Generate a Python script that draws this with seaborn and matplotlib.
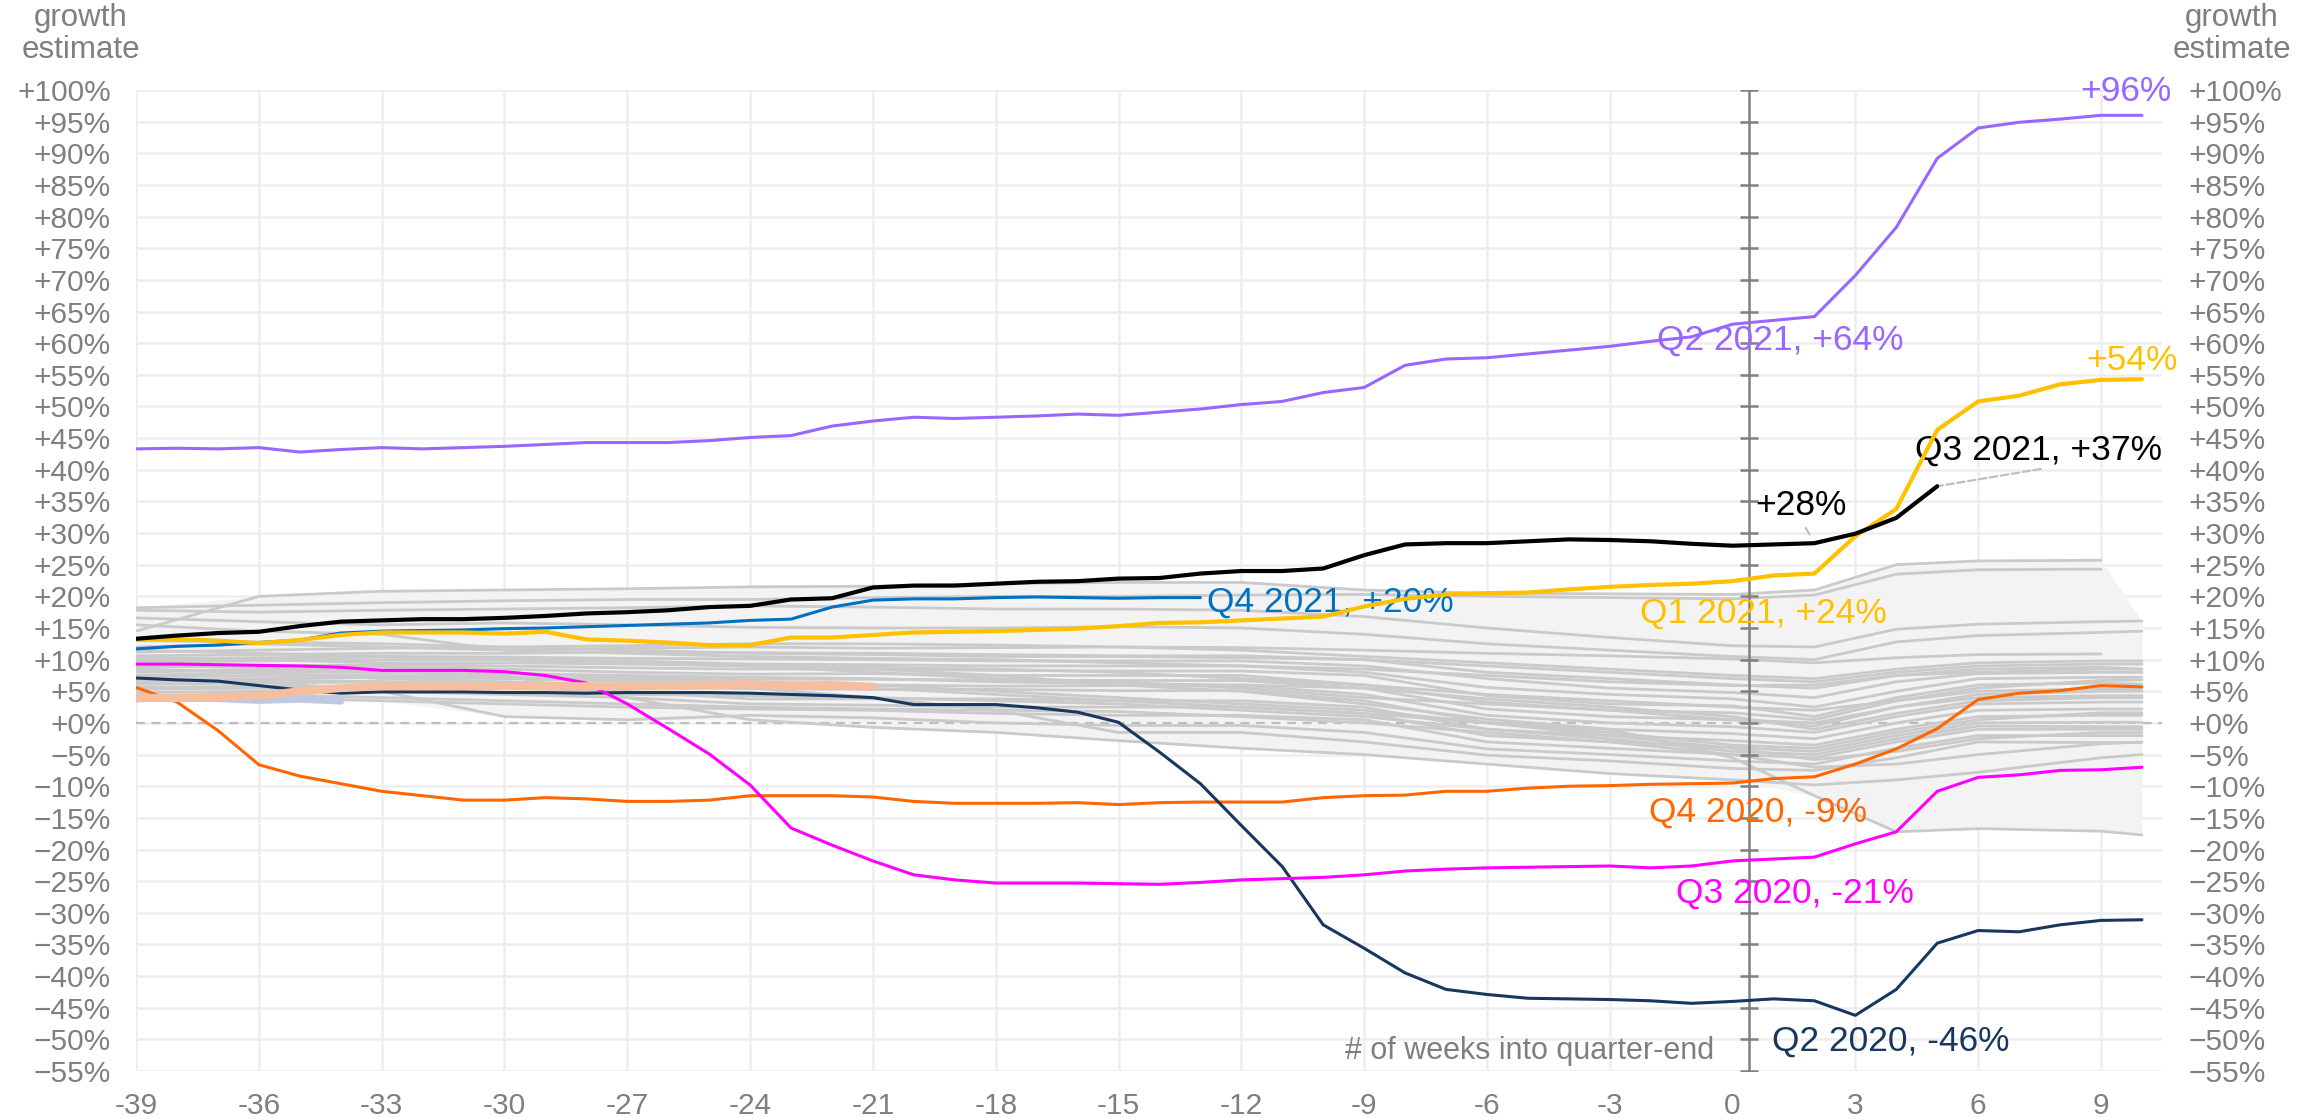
import numpy as np
import pandas as pd
import seaborn as sns
import matplotlib.pyplot as plt
from matplotlib.ticker import FuncFormatter

# weeks relative to quarter-end
weeks = list(range(-39, 11))

# highlighted quarters (growth estimate, %)
q2_2021 = [43.3, 43.4, 43.3, 43.5, 42.8, 43.2, 43.5, 43.3, 43.5, 43.7,
           44.0, 44.3, 44.3, 44.3, 44.6, 45.1, 45.4, 46.9, 47.7, 48.3,
           48.1, 48.3, 48.5, 48.8, 48.6, 49.1, 49.6, 50.3, 50.8, 52.2,
           53.0, 56.5, 57.5, 57.7, 58.3, 58.9, 59.5, 60.3, 61.0, 63.0,
           63.6, 64.2, 70.7, 78.3, 89.2, 94.0, 94.9, 95.4, 96.0, 96.0]
q1_2021 = [13.2, 13.2, 13.0, 12.6, 13.1, 13.9, 14.3, 14.3, 14.3, 14.1,
           14.4, 13.2, 13.0, 12.7, 12.3, 12.3, 13.5, 13.5, 13.9, 14.3,
           14.4, 14.5, 14.7, 14.9, 15.3, 15.8, 15.9, 16.2, 16.5, 16.8,
           18.4, 19.6, 20.3, 20.5, 20.6, 21.1, 21.5, 21.8, 22.0, 22.4,
           23.3, 23.6, 29.5, 33.8, 46.3, 50.8, 51.7, 53.5, 54.2, 54.3]
q3_2021 = [13.3, 13.8, 14.2, 14.4, 15.3, 16.0, 16.2, 16.4, 16.4, 16.6,
           16.9, 17.3, 17.5, 17.8, 18.3, 18.5, 19.5, 19.7, 21.4, 21.7,
           21.7, 22.0, 22.3, 22.4, 22.8, 22.9, 23.6, 24.0, 24.0, 24.4,
           26.5, 28.2, 28.4, 28.4, 28.7, 29.0, 28.9, 28.7, 28.3, 28.0,
           28.2, 28.4, 29.9, 32.4, 37.4]
q4_2021 = [11.7, 12.1, 12.3, 12.7, 13.1, 14.2, 14.5, 14.6, 14.7, 14.9,
           15.0, 15.2, 15.4, 15.6, 15.8, 16.2, 16.4, 18.3, 19.4, 19.6,
           19.6, 19.8, 19.9, 19.8, 19.7, 19.8, 19.8]
q4_2020 = [5.6, 3.3, -1.2, -6.6, -8.4, -9.6, -10.8, -11.5, -12.2, -12.2,
           -11.8, -12.0, -12.4, -12.4, -12.2, -11.5, -11.5, -11.5, -11.7, -12.4,
           -12.7, -12.7, -12.7, -12.6, -12.9, -12.6, -12.5, -12.5, -12.5, -11.8,
           -11.5, -11.4, -10.8, -10.8, -10.3, -10.0, -9.9, -9.7, -9.6, -9.5,
           -8.8, -8.5, -6.5, -4.1, -0.9, 3.7, 4.7, 5.1, 5.9, 5.7]
q3_2020 = [9.3, 9.3, 9.2, 9.1, 9.0, 8.8, 8.3, 8.3, 8.3, 8.1,
           7.5, 6.3, 3.0, -0.9, -4.9, -9.8, -16.6, -19.3, -21.8, -24.0,
           -24.8, -25.3, -25.3, -25.3, -25.4, -25.5, -25.2, -24.8, -24.6, -24.4,
           -24.0, -23.4, -23.1, -22.9, -22.8, -22.7, -22.6, -22.9, -22.6, -21.8,
           -21.5, -21.2, -19.1, -17.2, -10.8, -8.6, -8.2, -7.5, -7.4, -7.0]
q2_2020 = [7.1, 6.8, 6.6, 5.9, 5.2, 4.7, 4.9, 4.9, 4.9, 4.8,
           4.8, 4.7, 4.8, 4.8, 4.8, 4.7, 4.5, 4.3, 4.0, 2.9,
           2.9, 2.9, 2.4, 1.7, 0.1, -4.6, -9.6, -16.2, -22.7, -31.9,
           -35.6, -39.5, -42.1, -42.9, -43.5, -43.6, -43.7, -43.9, -44.3, -44.0,
           -43.6, -43.9, -46.2, -42.1, -34.8, -32.8, -33.0, -31.9, -31.2, -31.1]
q1_2022 = [3.9, 4.0, 4.1, 4.3, 5.0, 5.5, 5.8, 5.8, 5.8, 5.8,
           5.8, 5.8, 5.8, 5.8, 5.9, 6.1, 5.9, 6.0, 5.7]
q2_2022 = [3.9, 3.9, 3.9, 3.6, 3.8, 3.5]

# all other quarters (grey background), sampled weeks
gray_weeks = [-39, -36, -33, -30, -27, -24, -21, -18, -15, -12, -9, -6, -3, 0, 2, 4, 6, 9, 10]
nan = np.nan
other_quarters = [
    [14.5, 20.0, 20.8, 21.0, 21.2, 21.5, 21.6, 22.0, 22.2, 22.2, 21.0, 20.5, 20.4, 20.3, 21.0, 25.0, 25.6, 25.7, nan],
    [18.2, 18.6, 19.0, 19.3, 19.5, 19.5, 19.8, 20.0, 20.0, 20.2, 20.3, 20.0, 19.8, 19.6, 20.2, 23.5, 24.2, 24.3, nan],
    [17.8, 17.5, 17.8, 18.0, 18.2, 18.5, 18.3, 18.0, 18.0, 17.8, 16.8, 15.0, 13.5, 12.2, 12.0, 14.8, 15.6, 16.0, 16.1],
    [16.6, 16.0, 15.5, 15.8, 15.5, 15.1, 15.0, 15.0, 15.2, 15.0, 14.0, 12.5, 11.5, 10.5, 10.0, 12.8, 13.8, 14.3, 14.5],
    [15.5, 14.5, 14.0, 11.5, 11.8, 12.0, 11.8, 11.9, 12.0, 11.9, 11.5, 11.0, 10.6, 10.1, 9.5, 10.3, 10.8, 10.9, nan],
    [11.2, 11.5, 11.8, 12.0, 12.2, 12.5, 12.5, 12.3, 12.0, 11.5, 10.5, 9.5, 8.5, 7.5, 7.0, 8.5, 9.5, 9.8, 9.8],
    [10.6, 10.8, 11.0, 11.0, 11.2, 11.1, 11.0, 10.8, 10.6, 10.6, 10.0, 8.0, 7.0, 6.0, 5.5, 7.5, 8.5, 8.8, 8.5],
    [10.1, 10.3, 10.5, 10.4, 10.2, 10.1, 10.0, 9.8, 9.8, 9.8, 9.0, 7.0, 5.5, 4.8, 4.0, 6.5, 7.8, 8.0, 8.0],
    [9.6, 9.8, 10.0, 10.0, 9.8, 9.3, 9.2, 9.0, 9.0, 9.0, 8.0, 5.6, 4.5, 3.8, 2.5, 5.0, 7.0, 7.2, 7.2],
    [8.8, 9.0, 9.2, 9.0, 8.7, 8.5, 8.5, 8.3, 8.2, 8.2, 7.5, 4.3, 3.0, 2.7, 1.0, 4.0, 6.0, 6.3, 6.1],
    [8.0, 8.5, 8.8, 8.5, 8.0, 7.7, 7.8, 7.5, 7.5, 7.5, 6.0, 3.3, 2.0, 1.6, 0.5, 3.5, 5.0, 5.4, 5.4],
    [7.5, 8.0, 8.0, 7.8, 7.3, 6.9, 6.9, 6.8, 6.7, 6.7, 5.5, 2.2, 1.0, 0.5, -0.5, 2.5, 4.0, 4.3, 4.3],
    [6.9, 7.0, 7.2, 7.0, 6.6, 6.1, 6.0, 5.8, 5.9, 5.9, 4.5, 1.2, 0.0, -0.6, -1.5, 1.0, 3.0, 3.3, 3.3],
    [6.1, 6.3, 6.5, 6.0, 5.8, 5.4, 5.3, 5.3, 5.1, 5.1, 3.5, 0.1, -1.0, -1.7, -2.5, 0.0, 2.0, 2.2, 2.2],
    [5.6, 5.8, 5.8, 5.5, 5.0, 3.8, 3.8, 3.8, 3.5, 3.5, 2.5, -1.0, -2.0, -2.8, -3.5, -1.0, 1.0, 1.2, 1.2],
    [4.8, 5.0, 5.0, 4.5, 4.0, 3.0, 2.8, 2.5, 2.5, 2.5, 1.5, -2.0, -3.0, -3.9, -4.5, -2.0, 0.0, 0.1, 0.1],
    [3.8, 4.0, 3.5, 3.0, 2.5, 2.2, 2.0, 1.5, 1.2, 1.2, 0.5, -3.0, -4.0, -5.0, -5.5, -3.0, -1.0, -1.0, -1.0],
    [7.0, 6.5, 5.0, 1.0, 0.5, 1.2, 0.8, 0.0, -0.4, -0.4, -1.5, -4.1, -5.0, -6.0, -6.5, -4.0, -2.0, -2.0, -2.0],
    [8.5, 8.0, 7.0, 6.5, 6.0, 5.5, 4.0, 2.0, -1.5, -1.5, -3.0, -5.1, -6.0, -7.2, -7.5, -5.5, -3.0, -3.1, -3.1],
    [9.0, 8.8, 8.0, 7.5, 4.0, 0.5, -0.7, -1.5, -2.8, -4.0, -5.0, -6.5, -8.0, -9.0, -9.8, -9.0, -7.8, -5.5, -5.0],
    [11.5, 11.0, 10.5, 10.0, 9.5, 9.0, 8.5, 7.5, 6.0, 5.0, 3.0, 0.6, -1.0, -5.5, -11.5, -17.2, -16.7, -17.1, -17.7],
    [9.8, 10.0, 10.5, 10.0, 9.5, 9.0, 8.0, 7.0, 6.5, 5.5, 4.0, 3.0, 2.0, 0.5, 0.0, 2.5, 4.5, 5.0, 5.0],
    [7.3, 7.5, 7.5, 7.2, 7.0, 6.5, 6.0, 5.0, 4.0, 3.0, 2.0, 0.0, -1.5, -3.5, -4.0, -1.5, 0.5, 1.6, 1.6],
    [5.3, 5.5, 5.0, 4.8, 4.5, 4.3, 4.0, 3.5, 3.0, 2.0, 1.0, -1.0, -2.5, -4.5, -5.0, -2.5, -0.5, -0.6, -0.6],
    [12.0, 12.5, 12.0, 11.5, 11.0, 10.5, 10.2, 10.0, 9.5, 9.0, 8.5, 7.5, 6.5, 5.9, 6.0, 7.5, 8.0, 8.5, 8.5],
    [10.3, 10.0, 9.5, 9.5, 9.3, 9.0, 8.8, 8.5, 8.0, 7.0, 6.0, 4.5, 3.5, 2.5, 2.0, 3.5, 5.5, 6.7, 6.8],
    [6.5, 6.8, 6.5, 6.3, 6.0, 5.8, 5.5, 4.5, 3.5, 2.5, 1.5, 0.0, -2.0, -4.0, -5.8, -4.5, -2.5, -1.5, -1.5],
    [4.2, 4.5, 4.0, 3.5, 3.0, 2.5, 2.2, 2.0, 1.8, 1.0, 0.0, -1.5, -3.0, -5.0, -7.0, -6.5, -5.0, -3.3, -3.0],
    [13.0, 12.8, 12.5, 12.0, 11.5, 11.0, 10.8, 10.5, 10.5, 10.3, 10.0, 9.0, 8.0, 7.0, 6.5, 8.0, 9.0, 9.3, 9.3],
    [8.2, 8.3, 8.0, 7.8, 7.5, 7.2, 7.0, 6.5, 6.2, 6.0, 5.5, 3.8, 2.5, 1.0, -1.0, 1.5, 3.5, 4.0, 4.0],
]

gray_df = pd.DataFrame(
    [(i, w, v) for i, vals in enumerate(other_quarters) for w, v in zip(gray_weeks, vals)],
    columns=["quarter", "week", "growth"],
).dropna()

highlights = [
    (q4_2020, "#FF6600", 2.2, 4.0),
    (q3_2020, "#FF00FF", 2.2, 4.2),
    (q2_2020, "#17375E", 2.2, 4.0),
    (q2_2022, "#BFCAE2", 5.5, 4.4),
    (q1_2022, "#F4BE9F", 5.8, 4.4),
    (q4_2021, "#0070C0", 2.2, 4.5),
    (q1_2021, "#FFC000", 3.0, 5),
    (q2_2021, "#9966FF", 2.2, 5),
    (q3_2021, "#000000", 3.0, 6),
]

sns.set_theme(style="white")
plt.rcParams["font.family"] = ["Liberation Sans", "DejaVu Sans"]
tick_color = "#7F7F7F"
tick_size = 21.5

fig = plt.figure(figsize=(23.1, 11.18), dpi=100)
ax = fig.add_axes([0.0589, 0.042, 0.8772, 0.8775])

# light band behind the other quarters
band = gray_df.groupby("week")["growth"].agg(["min", "max"])
ax.fill_between(band.index, band["min"], band["max"], color="#F3F3F3", lw=0, zorder=1)

sns.lineplot(data=gray_df, x="week", y="growth", units="quarter", estimator=None,
             color="#CACACA", lw=2.0, ax=ax, legend=False, zorder=2)

for vals, color, lw, z in highlights:
    sns.lineplot(x=weeks[:len(vals)], y=vals, color=color, lw=lw, ax=ax, zorder=z)

# zero line and central vertical axis
ax.axhline(0, color="#BDBDBD", lw=1.6, ls=(0, (4, 3)), zorder=1.5)
yt = list(range(-55, 101, 5))
ax.axvline(0.4, color="#808080", lw=1.8, zorder=3)
ax.plot([0.4] * len(yt), yt, ls="none", marker="_", ms=13, mew=1.8, color="#808080", zorder=3)

xt = list(range(-39, 10, 3))
ax.set_xlim(-39, 10.5)
ax.set_ylim(-55, 100)
ax.set_xticks(xt)
ax.set_xticklabels([str(t) for t in xt])
ax.set_yticks(yt)
pct = FuncFormatter(lambda v, p: f"{v:+.0f}%".replace("-", "\u2212"))
ax.yaxis.set_major_formatter(pct)
ax.grid(True, color="#EEEEEE", lw=1.8, zorder=0)
ax.set_axisbelow(True)
for t, gl in zip(ax.get_xticks(), ax.get_xgridlines()):
    if t == 0:
        gl.set_visible(False)
ax.set_xlabel("")
ax.set_ylabel("")
for s in ax.spines.values():
    s.set_visible(False)
ax.tick_params(axis="both", length=0, labelsize=tick_size, labelcolor=tick_color)
ax.tick_params(axis="y", pad=18)
ax.tick_params(axis="x", pad=15)

ax2 = ax.twinx()
ax2.set_ylim(ax.get_ylim())
ax2.set_yticks(yt)
ax2.yaxis.set_major_formatter(pct)
ax2.tick_params(axis="y", length=0, labelsize=tick_size, labelcolor=tick_color, pad=19)
ax2.grid(False)
for s in ax2.spines.values():
    s.set_visible(False)

# labels
lab = dict(fontsize=25.5, va="center")
ax.text(9.6, 99.8, "+96%", color="#9966FF", ha="center", **lab)
ax.text(-1.85, 60.5, "Q2 2021, +64%", color="#9966FF", ha="left", **lab)
ax.text(9.75, 57.3, "+54%", color="#FFC000", ha="center", **lab)
ax.text(4.45, 43.1, "Q3 2021, +37%", color="black", ha="left", **lab)
ax.text(0.55, 34.3, "+28%", color="black", ha="left", **lab)
ax.text(-2.25, 17.4, "Q1 2021, +24%", color="#FFC000", ha="left", **lab)
ax.text(-12.85, 19.1, "Q4 2021, +20%", color="#0070C0", ha="left", **lab)
ax.text(-2.03, -14.1, "Q4 2020, -9%", color="#FF6600", ha="left", **lab)
ax.text(-1.37, -26.9, "Q3 2020, -21%", color="#FF00FF", ha="left", **lab)
ax.text(0.96, -50.3, "Q2 2020, -46%", color="#17375E", ha="left", **lab)
ax.text(-0.45, -51.9, "# of weeks into quarter-end", color=tick_color, ha="right",
        va="center", fontsize=22)

leader = dict(arrowstyle="-", color="#BDBDBD", lw=1.5, ls="--")
ax.annotate("", xy=(5, q3_2021[-1]), xytext=(7.6, 40.2), arrowprops=leader)
ax.annotate("", xy=(1.95, 29.0), xytext=(1.75, 31.2), arrowprops=leader)

fig.text(81 / 2310, 1 - 34 / 1118, "growth\nestimate", ha="center", va="center",
         fontsize=22.5, color=tick_color, linespacing=1.1)
fig.text(2232 / 2310, 1 - 34 / 1118, "growth\nestimate", ha="center", va="center",
         fontsize=22.5, color=tick_color, linespacing=1.1)

fig.savefig("out.png", dpi=100)
